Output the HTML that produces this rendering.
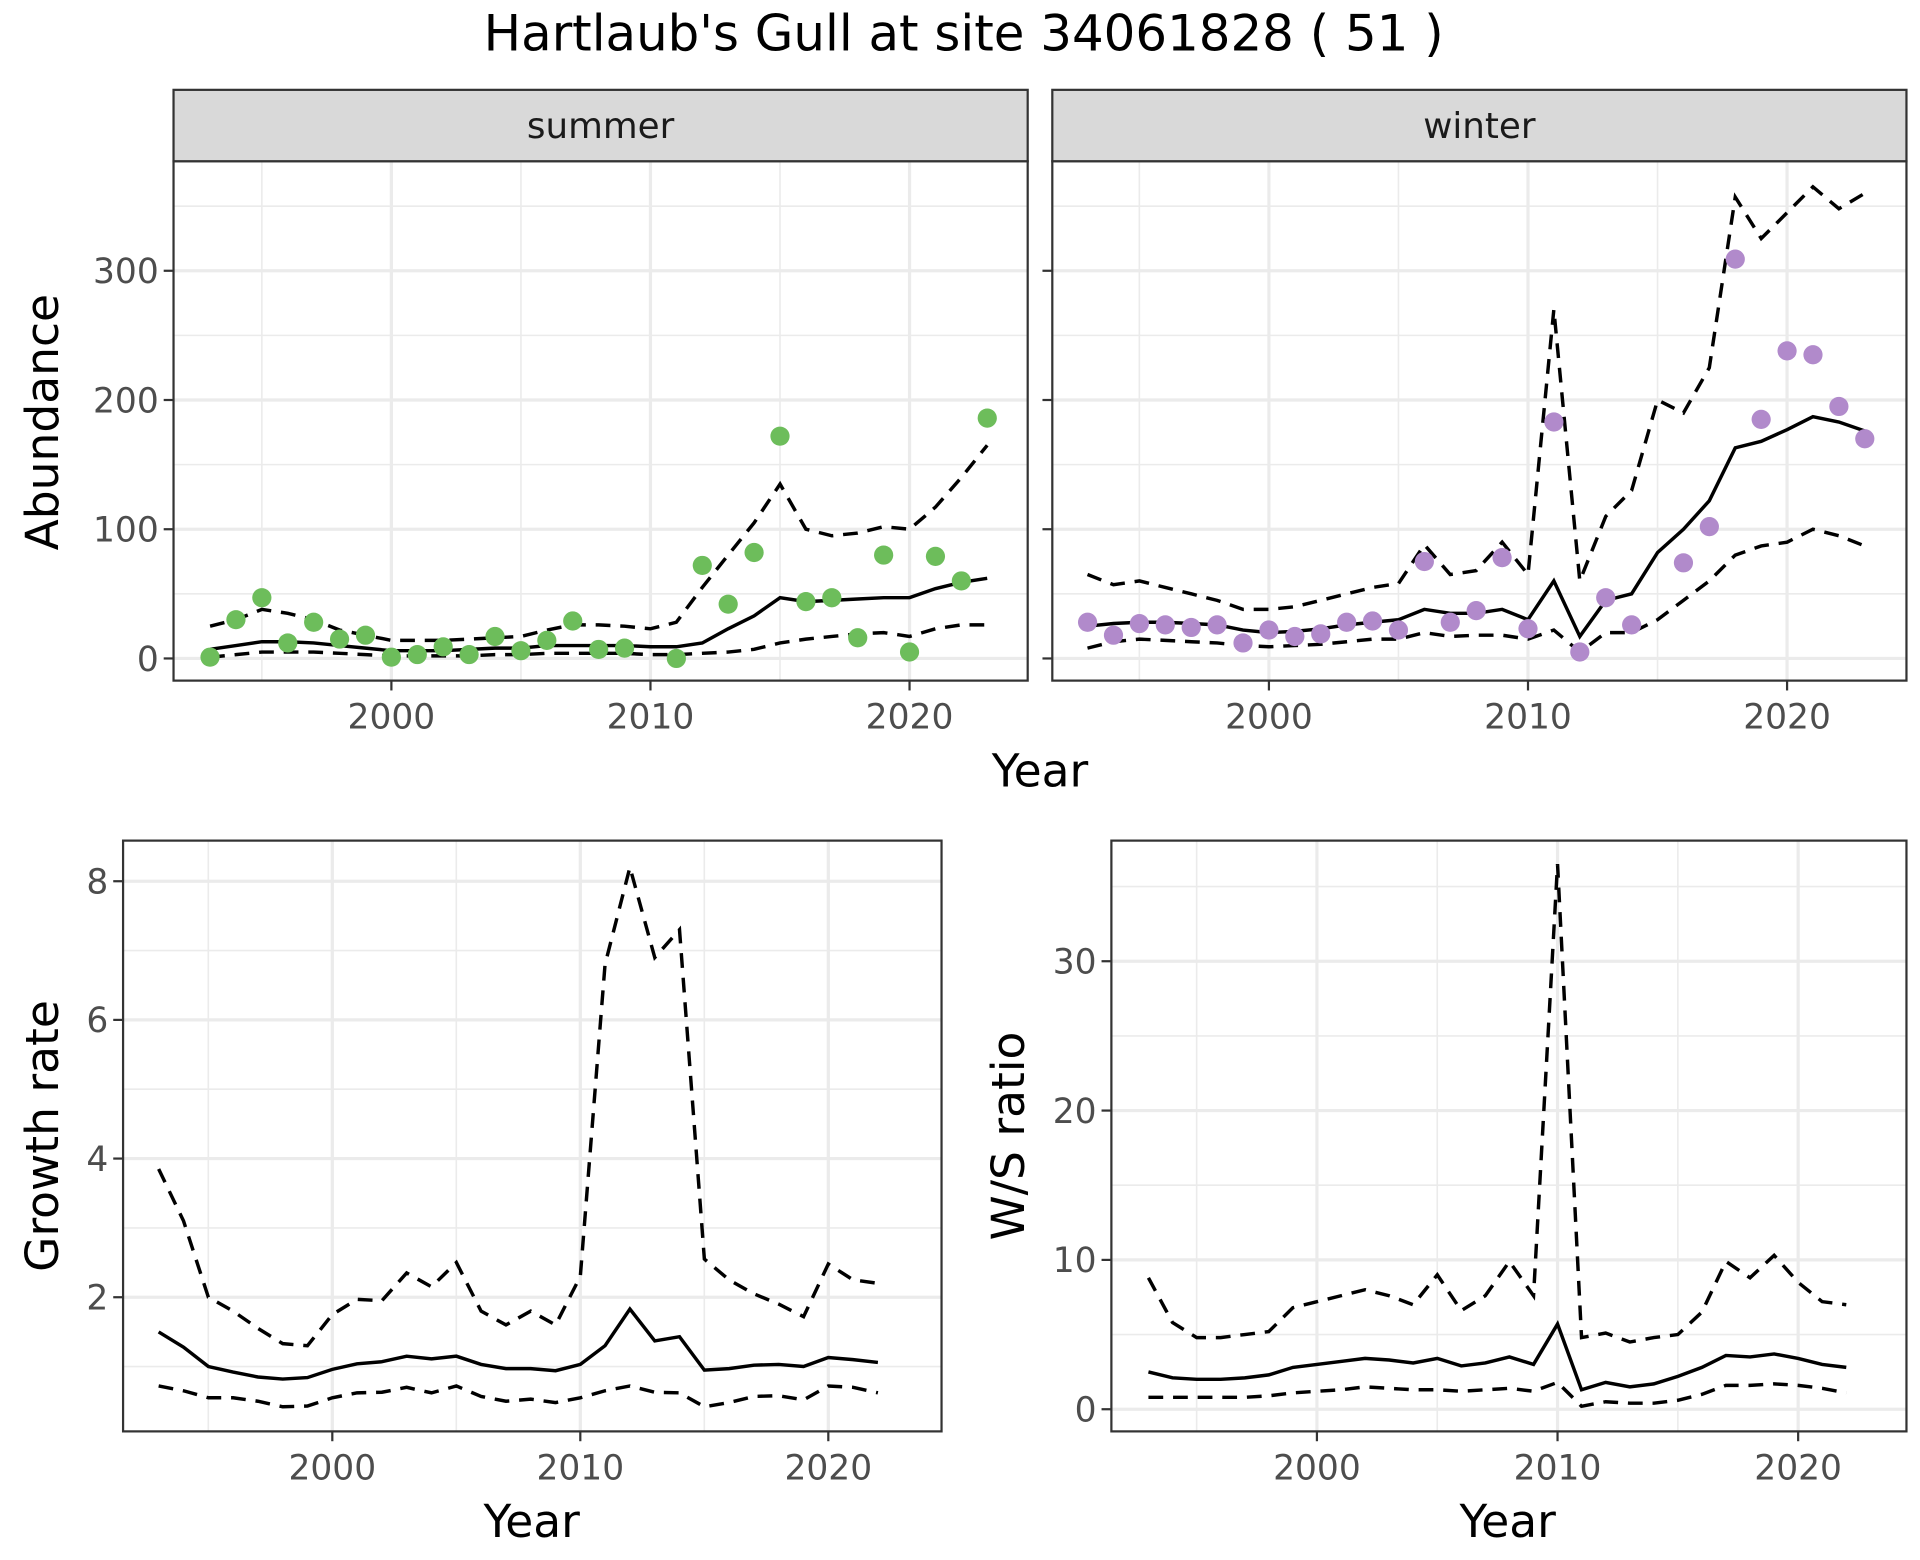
<!DOCTYPE html>
<html><head><meta charset="utf-8"><style>
html,body{margin:0;padding:0;background:#fff}
svg{display:block;font-family:"DejaVu Sans","Liberation Sans",sans-serif}
</style></head><body>
<svg id="chart" width="1920" height="1560" viewBox="0 0 1560 1267.5" xmlns="http://www.w3.org/2000/svg">
<text x="783" y="41" text-anchor="middle" font-size="40.5" fill="#000">Hartlaub's Gull at site 34061828 ( 51 )</text>
</svg>
<script>
const years = [1993,1994,1995,1996,1997,1998,1999,2000,2001,2002,2003,2004,2005,2006,2007,2008,2009,2010,2011,2012,2013,2014,2015,2016,2017,2018,2019,2020,2021,2022,2023];
const summerPts = [1,30,47,12,28,15,18,1,3,9,3,17,6,14,29,7,8,null,0,72,42,82,172,44,47,16,80,5,79,60,186];
const summerMean = [7,10,13,13,12,10,8,6,6,6,7,8,8,10,10,10,10,9,9,12,23,33,47,44,45,46,47,47,54,59,62];
const summerUpper = [25,30,38,35,30,22,18,14,14,14,15,16,17,22,26,26,25,23,28,55,80,105,135,100,95,97,102,100,117,140,165];
const summerLower = [1,3,5,5,5,4,3,2,2,2,2,3,3,4,4,4,4,3,3,4,5,7,12,15,17,19,20,17,23,26,26];
const winterPts = [28,18,27,26,24,26,12,22,17,19,28,29,22,75,28,37,78,23,183,5,47,26,null,74,102,309,185,238,235,195,170];
const winterMean = [25,27,28,28,27,26,22,20,21,23,26,28,30,38,35,35,38,30,60,17,45,50,82,100,122,163,168,177,187,183,176];
const winterUpper = [65,57,60,55,50,45,38,38,40,45,50,55,58,88,65,68,90,65,270,60,110,130,200,190,225,357,325,345,365,348,360];
const winterLower = [8,13,15,14,13,12,10,9,10,11,13,15,15,20,17,18,18,15,22,5,20,20,30,45,60,80,87,90,100,95,87];
const years2 = years.slice(0,30);
const growthMean = [1.5,1.28,1.0,0.92,0.85,0.82,0.84,0.96,1.04,1.07,1.15,1.11,1.15,1.03,0.97,0.97,0.94,1.03,1.3,1.83,1.37,1.43,0.95,0.97,1.02,1.03,1.0,1.13,1.1,1.06];
const growthUpper = [3.85,3.1,2.0,1.8,1.55,1.33,1.3,1.75,1.97,1.95,2.35,2.15,2.5,1.8,1.6,1.8,1.6,2.3,6.8,8.2,6.9,7.3,2.55,2.25,2.05,1.9,1.72,2.48,2.25,2.2];
const growthLower = [0.72,0.65,0.55,0.55,0.5,0.42,0.43,0.55,0.62,0.63,0.7,0.62,0.72,0.57,0.5,0.53,0.48,0.55,0.65,0.72,0.63,0.62,0.42,0.48,0.57,0.58,0.52,0.72,0.7,0.62];
const ratioMean = [2.5,2.1,2.0,2.0,2.1,2.3,2.8,3.0,3.2,3.4,3.3,3.1,3.4,2.9,3.1,3.5,3.0,5.7,1.3,1.8,1.5,1.7,2.2,2.8,3.6,3.5,3.7,3.4,3.0,2.8];
const ratioUpper = [8.8,5.8,4.8,4.8,5.0,5.2,6.8,7.2,7.6,8.0,7.6,7.0,9.0,6.6,7.6,9.9,7.6,36.5,4.8,5.1,4.5,4.8,5.0,6.5,9.9,8.8,10.3,8.5,7.2,7.0];
const ratioLower = [0.8,0.8,0.8,0.8,0.8,0.9,1.1,1.2,1.3,1.5,1.4,1.3,1.3,1.2,1.3,1.4,1.2,1.8,0.2,0.5,0.4,0.4,0.6,1.0,1.6,1.6,1.7,1.6,1.4,1.1];
const xTicks = [2000,2010,2020];
const xMinor = [1995,2005,2015];
const abTicks = [0,100,200,300];
const abMinor = [50,150,250,350];
const grTicks = [2,4,6,8];
const grMinor = [1,3,5,7];
const rtTicks = [0,10,20,30];
const rtMinor = [5,15,25,35];

const NS='http://www.w3.org/2000/svg';
const svg=document.getElementById('chart');
function el(tag,attrs,parent,txt){const e=document.createElementNS(NS,tag);for(const k in attrs)e.setAttribute(k,attrs[k]);if(txt!==undefined)e.textContent=txt;(parent||svg).appendChild(e);return e;}
function lin(d0,d1,r0,r1){return v=>r0+(v-d0)*(r1-r0)/(d1-d0);}
const TF=28;

function panel(o){
  const g=el('g',{});
  
  
  const X=lin(2000,2020,o.x2000,o.x2020), Y=lin(o.yv0,o.yv1,o.yp0,o.yp1);
  el('rect',{x:o.l,y:o.t,width:o.r-o.l,height:o.b-o.t,fill:'#fff'},g);
  o.yMinor.forEach(v=>{const y=Y(v);if(y>o.t&&y<o.b)el('line',{x1:o.l,x2:o.r,y1:y,y2:y,stroke:'#ebebeb','stroke-width':1.3},g);});
  xMinor.forEach(v=>el('line',{x1:X(v),x2:X(v),y1:o.t,y2:o.b,stroke:'#ebebeb','stroke-width':1.3},g));
  o.yTicks.forEach(v=>{const y=Y(v);el('line',{x1:o.l,x2:o.r,y1:y,y2:y,stroke:'#ebebeb','stroke-width':2.6},g);});
  xTicks.forEach(v=>el('line',{x1:X(v),x2:X(v),y1:o.t,y2:o.b,stroke:'#ebebeb','stroke-width':2.6},g));
  const path=(arr,xs,dash,nm)=>{let d='';xs.forEach((yr,i)=>{d+=(i?'L':'M')+X(yr).toFixed(1)+','+Y(arr[i]).toFixed(1);});
    const p=el('path',{d:d,fill:'none',stroke:'#000','stroke-width':2.8,'stroke-dasharray':dash?'12,8':'none'},g);
    
    };
  path(o.upper,o.xs,true,'upper-ci-line');
  path(o.lower,o.xs,true,'lower-ci-line');
  path(o.mean,o.xs,false,'mean-line');
  if(o.pts){o.pts.forEach((v,i)=>{if(v===null)return;
    const c=el('circle',{cx:X(o.xs[i]),cy:Y(v),r:7.8,fill:o.color},g);
    
    });}
  el('rect',{x:o.l,y:o.t,width:o.r-o.l,height:o.b-o.t,fill:'none',stroke:'#333','stroke-width':1.8},g);
  xTicks.forEach(v=>{el('line',{x1:X(v),x2:X(v),y1:o.b,y2:o.b+8,stroke:'#333','stroke-width':1.8},g);
    el('text',{x:X(v),y:o.b+39,'text-anchor':'middle','font-size':TF,fill:'#4d4d4d'},g,String(v));});
  o.yTicks.forEach(v=>{const y=Y(v);el('line',{x1:o.l-8,x2:o.l,y1:y,y2:y,stroke:'#333','stroke-width':1.8},g);
    if(o.yLabels)el('text',{x:o.l-12,y:y+10,'text-anchor':'end','font-size':TF,fill:'#4d4d4d'},g,String(v));});
  if(o.strip){el('rect',{x:o.l,y:o.t-58,width:o.r-o.l,height:58,fill:'#d9d9d9',stroke:'#333','stroke-width':1.8},g);
    const s=el('text',{x:(o.l+o.r)/2,y:o.t-19,'text-anchor':'middle','font-size':29,fill:'#1a1a1a'},g,o.strip);
    
    }
}
panel({name:'summer-panel',l:141,r:835,t:131,b:553,x2000:318,x2020:739,yv0:0,yv1:300,yp0:535,yp1:220,
  yTicks:abTicks,yMinor:abMinor,yLabels:true,xs:years,mean:summerMean,upper:summerUpper,lower:summerLower,pts:summerPts,color:'#6dbd5b',strip:'summer'});
panel({name:'winter-panel',l:855,r:1549,t:131,b:553,x2000:1031,x2020:1452,yv0:0,yv1:300,yp0:535,yp1:220,
  yTicks:abTicks,yMinor:abMinor,yLabels:false,xs:years,mean:winterMean,upper:winterUpper,lower:winterLower,pts:winterPts,color:'#b18acb',strip:'winter'});
panel({name:'growth-panel',l:100,r:765,t:683,b:1163,x2000:270,x2020:673,yv0:2,yv1:8,yp0:1054,yp1:716,
  yTicks:grTicks,yMinor:grMinor,yLabels:true,xs:years2,mean:growthMean,upper:growthUpper,lower:growthLower});
panel({name:'ratio-panel',l:903,r:1549,t:683,b:1163,x2000:1070,x2020:1461,yv0:0,yv1:30,yp0:1145,yp1:781,
  yTicks:rtTicks,yMinor:rtMinor,yLabels:true,xs:years2,mean:ratioMean,upper:ratioUpper,lower:ratioLower});

function label(txt,x,y,rot,nm){const t=el('text',{x:x,y:y,'text-anchor':'middle','font-size':37,fill:'#000',transform:rot?`rotate(-90 ${x} ${y})`:''},svg,txt);
  
  }
label('Abundance',47,343,true,'abundance-y-title');
label('Year',845,639,false,'top-x-title');
label('Growth rate',47,923,true,'growth-y-title');
label('W/S ratio',832,923,true,'ratio-y-title');
label('Year',432,1249,false,'growth-x-title');
label('Year',1225,1249,false,'ratio-x-title');
</script>
</body></html>
